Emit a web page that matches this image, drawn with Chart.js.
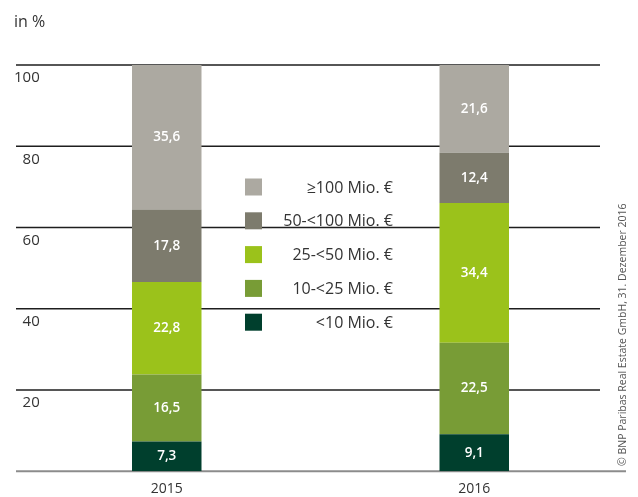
<!DOCTYPE html>
<html>
<head>
<meta charset="utf-8">
<script src="https://cdn.jsdelivr.net/npm/chart.js@4"></script>
<style>
  body { margin: 0; background: #fff; }
  canvas { display: block; }
</style>
</head>
<body>
<canvas id="chart" width="638" height="497"></canvas>
<script>
const years = ['2015', '2016'];
const seriesNames = ['<10 Mio. €', '10-<25 Mio. €', '25-<50 Mio. €', '50-<100 Mio. €', '≥100 Mio. €'];
const seriesColors = ['#003f2d', '#789c36', '#9bc21b', '#7d7b6d', '#aca9a1'];
const under10 = [7.3, 9.1];
const from10to25 = [16.5, 22.5];
const from25to50 = [22.8, 34.4];
const from50to100 = [17.8, 12.4];
const over100 = [35.6, 21.6];
const yTickLabels = ['', '20', '40', '60', '80', '100'];
const unitLabel = 'in %';
const sourceNote = '© BNP Paribas Real Estate GmbH, 31. Dezember 2016';

const FONT = '"Open Sans", "DejaVu Sans", sans-serif';
const values = [under10, from10to25, from25to50, from50to100, over100];

// gridlines, value labels, legend, unit and source note
const extras = {
  id: 'extras',
  beforeDatasetsDraw(chart) {
    const ctx = chart.ctx;
    const y = chart.scales.y;
    const area = chart.chartArea;
    ctx.save();
    y.ticks.forEach(t => {
      const py = y.getPixelForValue(t.value);
      const base = t.value === 0;
      ctx.beginPath();
      ctx.strokeStyle = base ? '#8c8c8c' : '#1e1e1e';
      ctx.lineWidth = base ? 2 : 1.5;
      ctx.moveTo(area.left + 3, py);
      ctx.lineTo(base ? area.right - 2 : area.right - 28, py);
      ctx.stroke();
    });
    ctx.restore();
  },
  afterDatasetsDraw(chart) {
    const ctx = chart.ctx;
    ctx.save();
    ctx.fillStyle = '#ffffff';
    ctx.font = '600 13.5px ' + FONT;
    ctx.textAlign = 'center';
    ctx.textBaseline = 'middle';
    chart.data.datasets.forEach((ds, i) => {
      chart.getDatasetMeta(i).data.forEach((bar, j) => {
        const cy = (bar.y + bar.base) / 2;
        ctx.fillText(ds.data[j].toFixed(1).replace('.', ','), bar.x, cy);
      });
    });

    // legend, top entry first
    ctx.font = '16px ' + FONT;
    ctx.textAlign = 'right';
    const n = chart.data.datasets.length;
    for (let k = 0; k < n; k++) {
      const ds = chart.data.datasets[n - 1 - k];
      const cy = 187 + k * 33.8;
      ctx.fillStyle = ds.backgroundColor;
      ctx.fillRect(245, cy - 8.5, 17, 17);
      ctx.fillStyle = '#333';
      ctx.fillText(ds.label, 393, cy + 1);
    }

    ctx.textAlign = 'left';
    ctx.font = '16px ' + FONT;
    ctx.fillText(unitLabel, 14, 22);

    ctx.translate(623, 466);
    ctx.rotate(-Math.PI / 2);
    ctx.font = '10.5px ' + FONT;
    ctx.fillStyle = '#555';
    ctx.fillText(sourceNote, 0, 0);
    ctx.restore();
  }
};

new Chart(document.getElementById('chart'), {
  type: 'bar',
  data: {
    labels: years,
    datasets: seriesNames.map((name, i) => ({
      label: name,
      data: values[i],
      backgroundColor: seriesColors[i],
      borderWidth: 0,
      categoryPercentage: 1,
      barPercentage: 0.226
    }))
  },
  options: {
    responsive: false,
    animation: false,
    layout: { padding: { left: 11, right: 10, top: 65, bottom: -9 } },
    plugins: { legend: { display: false }, tooltip: { enabled: false } },
    scales: {
      x: {
        stacked: true,
        grid: { display: false, drawTicks: false },
        border: { display: false },
        ticks: { color: '#333', font: { family: FONT, size: 14 }, padding: 9 }
      },
      y: {
        stacked: true,
        min: 0,
        max: 100,
        grid: { display: false, drawTicks: false },
        border: { display: false },
        ticks: {
          stepSize: 20,
          mirror: true,
          crossAlign: 'far',
          padding: 1,
          labelOffset: 13,
          color: '#333',
          font: { family: FONT, size: 15 },
          callback: (v, idx) => yTickLabels[idx]
        }
      }
    }
  },
  plugins: [extras]
});
</script>
</body>
</html>
